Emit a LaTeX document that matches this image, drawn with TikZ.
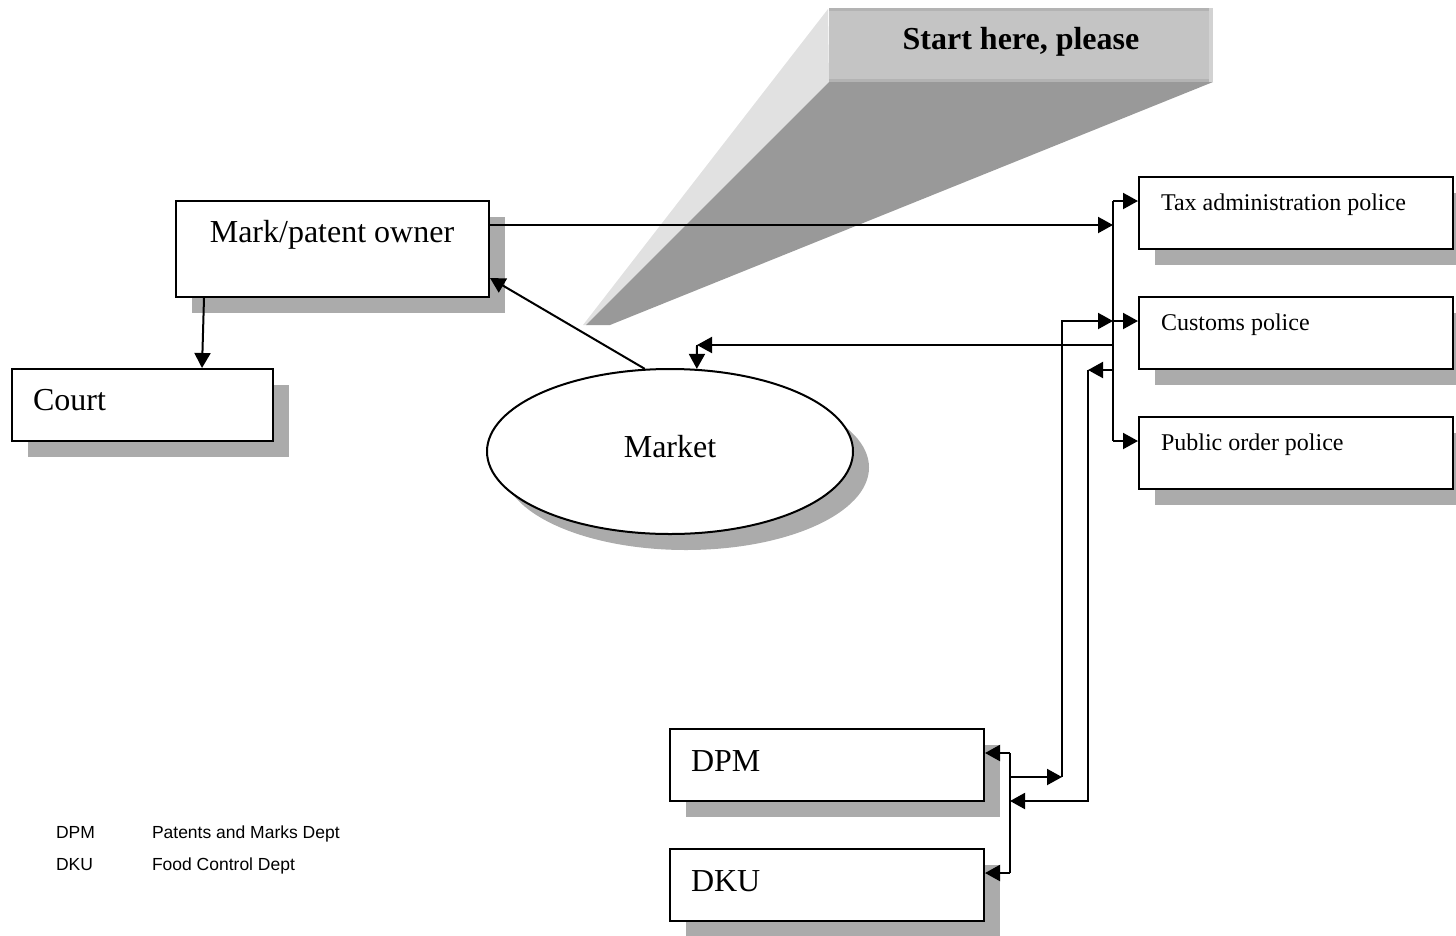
\documentclass[tikz,border=0pt]{standalone}
\usepackage{fontspec}
\setmainfont{Liberation Serif}
\newfontfamily\legendfont{Liberation Sans}
\usetikzlibrary{arrows.meta,shapes.geometric,shadows}

\definecolor{shadowgray}{HTML}{ABABAB}
\definecolor{calloutTop}{HTML}{C4C4C4}
\definecolor{calloutEdge}{HTML}{B3B3B3}
\definecolor{calloutRim}{HTML}{D2D2D2}
\definecolor{calloutSide}{HTML}{E1E1E1}
\definecolor{calloutFace}{HTML}{999999}

\newcommand\txtBig{\fontsize{32}{38}\selectfont}
\newcommand\txtMid{\fontsize{24}{28}\selectfont}
\newcommand\txtLegend{\legendfont\fontsize{17.5}{21}\selectfont}

\tikzset{
  shadowbox/.style={draw, line width=2pt, fill=white, inner sep=0pt,
    drop shadow={shadow xshift=16pt, shadow yshift=-16pt, fill=shadowgray, opacity=1}},
  unitbox/.style={shadowbox, rectangle, minimum width=314pt, minimum height=72pt},
  label/.style={inner sep=0pt, outer sep=0pt},
  conn/.style={line width=2pt},
  arr/.style={line width=2pt, -{Triangle[length=15pt,width=16pt]}},
}

\begin{document}
\begin{tikzpicture}[x=1pt, y=-1pt]
\useasboundingbox (0,0) rectangle (1456,935);
\clip (0,0) rectangle (1456,935);

% --- callout banner -------------------------------------------------
\fill[calloutSide] (828,9) -- (829,82) -- (587,325) -- (583,325) -- cycle;
\fill[calloutFace] (829,82) -- (1213,82) -- (610,325) -- (586,325) -- cycle;
\fill[calloutTop] (829,8) rectangle (1213,82);
\fill[calloutEdge] (829,8) rectangle (1213,11);
\fill[calloutEdge] (829,79) rectangle (1213,82);
\fill[calloutRim] (1209,8) rectangle (1213,82);
\node[label, anchor=base, font=\txtBig\bfseries] (start) at (1021,49) {Start here, please};

% --- boxes ----------------------------------------------------------
\node[shadowbox, rectangle, minimum width=313pt, minimum height=96pt] (owner) at (332.5,249) {};
\node[shadowbox, rectangle, minimum width=261pt, minimum height=72pt] (court) at (142.5,405) {};
\node[shadowbox, ellipse, minimum width=366pt, minimum height=165pt] (market) at (670,451.5) {};

\node[unitbox] (tax) at (1296,213) {};
\node[unitbox] (customs) at (1296,333) {};
\node[unitbox] (public) at (1296,453) {};

\node[unitbox] (dpm) at (827,765) {};
\node[unitbox] (dku) at (827,885) {};

% --- box texts ------------------------------------------------------
\node[label, anchor=base, font=\txtBig] (ownerT) at (332,242) {Mark/patent owner};
\node[label, anchor=base west, font=\txtBig] (courtT) at (33,410) {Court};
\node[label, anchor=base, font=\txtBig] (marketT) at (670,457) {Market};
\node[label, anchor=base west, font=\txtMid] (taxT) at (1161,210) {Tax administration police};
\node[label, anchor=base west, font=\txtMid] (customsT) at (1161,330) {Customs police};
\node[label, anchor=base west, font=\txtMid] (publicT) at (1161,450) {Public order police};
\node[label, anchor=base west, font=\txtBig] (dpmT) at (691,771) {DPM};
\node[label, anchor=base west, font=\txtBig] (dkuT) at (691,891) {DKU};

% --- legend ---------------------------------------------------------
\node[label, anchor=base west, font=\txtLegend] (lgA) at (56,838) {DPM};
\node[label, anchor=base west, font=\txtLegend] (lgAt) at (152,838) {Patents and Marks Dept};
\node[label, anchor=base west, font=\txtLegend] (lgB) at (56,870) {DKU};
\node[label, anchor=base west, font=\txtLegend] (lgBt) at (152,870) {Food Control Dept};

% --- police distribution bus ---------------------------------------
\coordinate (busTop) at (1113,201);
\coordinate (busBot) at (1113,441);
\coordinate (busIn) at (1113,225);
\coordinate (busCus) at (1113,321);
\coordinate (busMkt) at (1113,345);
\coordinate (busBack) at (1113,370);

\draw[conn] (busTop) -- (busBot);
\draw[arr] ([yshift=24pt]owner.east) -- (busIn);
\draw[arr] (busTop) -- ([yshift=12pt]tax.west);
\draw[arr] (busCus) -- ([yshift=12pt]customs.west);
\draw[arr] (busBot) -- ([yshift=12pt]public.west);

% bus back to the market
\coordinate (mktCorner) at (697,345);
\draw[arr] (busMkt) -- (mktCorner);
\draw[arr] (mktCorner) -- (market.72);

% market to owner, owner to court
\draw[arr] (market.107) -- ([yshift=-29pt]owner.east);
\draw[arr] ([xshift=29pt]owner.south west) -- ([xshift=191pt]court.north west);

% --- DPM / DKU links -----------------------------------------------
\coordinate (dTop) at (1010,753);
\coordinate (dBot) at (1010,873);
\coordinate (dOut) at (1010,777);
\coordinate (dIn) at (1010,801);
\coordinate (upCorner) at (1062,777);
\coordinate (upTop) at (1062,321);
\coordinate (downCorner) at (1088,370);
\coordinate (downBot) at (1088,801);

\draw[conn] (dTop) -- (dBot);
\draw[arr] (dTop) -- ([yshift=12pt]dpm.east);
\draw[arr] (dBot) -- ([yshift=12pt]dku.east);

\draw[arr] (dOut) -- (upCorner);
\draw[arr] (upCorner) -- (upTop) -- (busCus);

\draw[arr] (busBack) -- (downCorner);
\draw[arr] (downCorner) -- (downBot) -- (dIn);
\end{tikzpicture}
\end{document}
